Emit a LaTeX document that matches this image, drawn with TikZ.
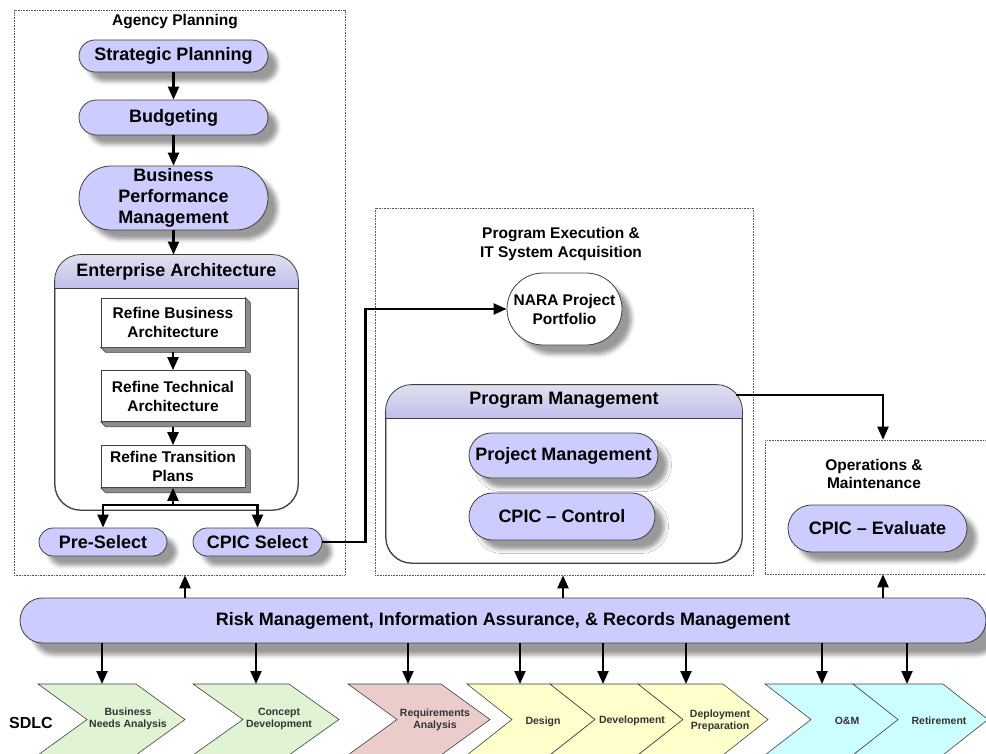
\documentclass[tikz,border=0pt]{standalone}
\usepackage{fontspec}
\setmainfont{Liberation Sans}
\usetikzlibrary{arrows.meta,shadows.blur}
\definecolor{lav}{RGB}{204,204,255}
\definecolor{lavtop}{RGB}{224,224,238}
\definecolor{lavbot}{RGB}{190,190,238}
\definecolor{sdlcgreen}{RGB}{224,243,212}
\definecolor{sdlcpink}{RGB}{234,204,202}
\definecolor{sdlcyellow}{RGB}{255,255,204}
\definecolor{sdlccyan}{RGB}{204,255,255}
\definecolor{edge}{RGB}{64,64,64}
\tikzset{
  pill/.style={draw=edge, line width=.8pt, fill=lav, inner sep=0pt, align=center,
    font=\fontsize{18}{21}\selectfont\bfseries,
    blur shadow={shadow xshift=#1, shadow yshift=-#1, shadow blur radius=4pt, shadow opacity=40}},
  pill/.default=9.5pt,
  frame/.style={draw=black!65, line width=.6pt, dash pattern=on .8pt off .8pt, inner sep=0pt},
  panel/.style={draw=edge, line width=.8pt, fill=white, rounded corners=26pt, inner sep=0pt},
  refine/.style={draw=edge, line width=.7pt, fill=white, inner sep=0pt, align=center,
    minimum width=144pt, font=\fontsize{15.5}{19}\selectfont\bfseries},
  title/.style={align=center, font=\fontsize{15.5}{18.5}\selectfont\bfseries},
  header/.style={font=\fontsize{18}{21}\selectfont\bfseries},
  steplabel/.style={align=center, text=black!80, font=\fontsize{10.5}{12.5}\selectfont\bfseries},
  arr/.style={line width=2.2pt, -{Triangle[length=13pt,width=11pt]}},
}
\begin{document}
\begin{tikzpicture}[x=1pt, y=-1pt]
\useasboundingbox (0,0) rectangle (986,754);

\node[frame, minimum width=331pt, minimum height=565pt] (ap) at (179.5,292.5) {};
\node[title] (apt) at (175,22) {Agency Planning};
\node[frame, minimum width=378pt, minimum height=367pt] (pe) at (564,391.5) {};
\node[title] (pet) at (561,244) {Program Execution \&\\IT System Acquisition};
\node[frame, minimum width=236pt, minimum height=134pt] (om) at (883,507) {};
\node[title] (omt) at (874,474) {Operations \&\\Maintenance};

\node[pill, minimum width=189pt, minimum height=32pt, rounded corners=16pt] (sp) at (173.5,56) {Strategic Planning};
\node[pill, minimum width=189pt, minimum height=35pt, rounded corners=17.5pt] (bud) at (173.5,117.5) {Budgeting};
\node[pill, minimum width=189pt, minimum height=64pt, rounded corners=32pt] (bpm) at (173.5,198) {Business\\Performance\\Management};

\node[panel, minimum width=243pt, minimum height=255pt] (ea) at (176.5,382.5) {};
\node[panel, minimum width=356pt, minimum height=178pt] (pm) at (564,474) {};
\foreach \p in {ea,pm} {
  \begin{scope}
    \clip[rounded corners=26pt] (\p.north west) rectangle (\p.south east);
    \shade[top color=lavtop, bottom color=lavbot] (\p.north west) rectangle ([yshift=-34pt]\p.north east);
  \end{scope}
  \draw[draw=edge, line width=.8pt, rounded corners=26pt] (\p.north west) rectangle (\p.south east);
  \draw[draw=edge, line width=.8pt] ([yshift=-34pt]\p.north west) -- ([yshift=-34pt]\p.north east);
}
\node[header] (eah) at ([yshift=-17pt]ea.north) {Enterprise Architecture};
\node[header] (pmh) at ([yshift=-16pt]pm.north) {Program Management};

\node[refine, minimum height=49pt] (rba) at (173,322.5) {Refine Business\\Architecture};
\node[refine, minimum height=51pt] (rta) at (173,396) {Refine Technical\\Architecture};
\node[refine, minimum height=42pt] (rtp) at (173,466.5) {Refine Transition\\Plans};
\foreach \b in {rba,rta,rtp}
  \filldraw[fill=black!45, draw=edge, line width=.5pt] (\b.north east) -- ++(5,5)
    -- ([xshift=5pt,yshift=-5pt]\b.south east) -- ([xshift=5pt,yshift=-5pt]\b.south west)
    -- (\b.south west) -- (\b.south east) -- cycle;

\node[pill, minimum width=128pt, minimum height=28pt, rounded corners=14pt] (pre) at (103,542) {Pre-Select};
\node[pill, minimum width=129pt, minimum height=28pt, rounded corners=14pt] (cpics) at (257.5,542) {CPIC Select};

\node[pill, fill=white, minimum width=115pt, minimum height=72pt, rounded corners=36pt,
  font=\fontsize{15.5}{19}\selectfont\bfseries] (nara) at (564.5,309) {NARA Project\\Portfolio};
\node[pill, minimum width=189pt, minimum height=45pt, rounded corners=22.5pt] (prj) at (563.5,455.5) {Project Management};
\node[pill, minimum width=186pt, minimum height=47pt, rounded corners=23.5pt] (ctl) at (562,516.5) {CPIC – Control};
\node[pill, minimum width=179pt, minimum height=47pt, rounded corners=23.5pt] (evl) at (877.5,528.5) {CPIC – Evaluate};

\node[pill=12pt, minimum width=966pt, minimum height=45pt, rounded corners=22.5pt] (band) at (503,620.5)
  {Risk Management, Information Assurance, \& Records Management};

\draw[arr] (sp) -- (bud);
\draw[arr] (bud) -- (bpm);
\draw[arr] (bpm.south) -- (bpm.south |- ea.north);
\draw[arr] ([yshift=-5pt]rba.south) -- (rta.north);
\draw[arr] ([yshift=-5pt]rta.south) -- (rtp.north);
\coordinate (split) at (173,505);
\draw[line width=2.2pt] (pre.north |- split) -- (cpics.north |- split);
\draw[arr] (split) -- (rtp.south);
\draw[arr] (split) -| (pre.north);
\draw[arr] (split) -| (cpics.north);
\draw[arr] (cpics.east) -- ++(43,0) |- (nara.west);
\draw[arr] ([xshift=-6pt,yshift=-10pt]pm.north east) -| (om.north);
\foreach \x/\f in {185/ap, 563/pe, 883/om}
  \draw[arr] (band.north -| \x,0) -- (\f.south -| \x,0);

\node[font=\fontsize{16}{19}\selectfont\bfseries] (sdlc) at (31,723) {SDLC};
\foreach \i/\l/\r/\d/\c/\ax/\tx/\ty/\t in {
  1/38/136/49/sdlcgreen/102/128/719/{Business\\Needs Analysis},
  2/193/289/50/sdlcgreen/256/279/719/{Concept\\Development},
  3/348/441/49/sdlcpink/408/435/720/{Requirements\\Analysis},
  4/467/550/45/sdlcyellow/520/543/722/Design,
  5/550/638/45/sdlcyellow/603/632/721/Development,
  6/638/723/45/sdlcyellow/686/720/721/{Deployment\\Preparation},
  7/765/853/46/sdlccyan/822/847/721/O\&M,
  8/853/943/45/sdlccyan/907/939/721/Retirement} {
  \filldraw[fill=\c, draw=edge, line width=.6pt] (\l,684) -- (\r,684) -- (\r+\d,719.5)
    -- (\r,755) -- (\l,755) -- (\l+\d,719.5) -- cycle;
  \node[steplabel] (sd\i) at (\tx,\ty) {\t};
  \coordinate (top\i) at (\ax,684);
}
\foreach \i in {1,...,8}
  \draw[arr] (band.south -| top\i) -- (top\i);
\end{tikzpicture}
\end{document}
